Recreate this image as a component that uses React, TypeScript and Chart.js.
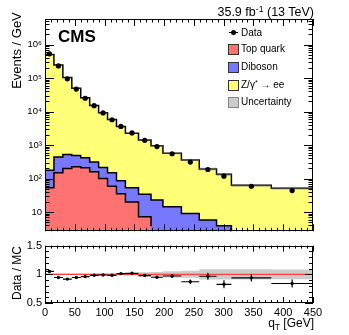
import React, { useEffect, useRef } from 'react';
import { Chart, registerables } from 'chart.js';

Chart.register(...registerables);

const FONT = "'Liberation Sans', Arial, Helvetica, sans-serif";

// ---- data ----
const binEdges = [0, 15, 30, 45, 60, 75, 90, 105, 120, 135, 157, 178, 198, 229, 259, 288, 313, 380, 450];
const dataValues = [530000, 230000, 95000, 47000, 25000, 15000, 9100, 5700, 3600, 2300, 1390, 900, 551, 312, 187, 118, 59, 44];
const topQuark = [53, 149, 200, 224, 210, 159, 101, 59, 35, 20, 7.3, 3.8, 0, 0, 0, 0, 0, 0];
const diboson = [125, 291, 321, 263, 206, 153, 113, 90, 51, 33, 26.7, 19.2, 14.5, 9, 5.8, 3.9, 1.2, 0.8];
const drellYan = [504800, 244000, 103200, 49300, 25600, 14950, 9000, 5650, 3470, 2210, 1387, 925, 553, 350, 188, 130, 62, 51];
const systUnc = [0.012, 0.012, 0.012, 0.012, 0.012, 0.012, 0.012, 0.012, 0.015, 0.02, 0.035, 0.04, 0.055, 0.06, 0.09, 0.09, 0.09, 0.085];
const ratioValues = [1.05, 0.944, 0.916, 0.944, 0.961, 0.983, 0.988, 0.983, 1.012, 1.017, 0.978, 0.949, 0.97, 0.87, 0.966, 0.826, 0.938, 0.84];
const ratioErrors = [0.008, 0.008, 0.008, 0.008, 0.008, 0.008, 0.008, 0.008, 0.01, 0.01, 0.012, 0.015, 0.03, 0.04, 0.06, 0.07, 0.065, 0.07];

// ---- axes / ticks ----
const Y_MIN = 2.67;
const Y_MAX = 5.8e6;
const yMajorValues = [10, 100, 1000, 10000, 100000, 1000000];
const yMajorLabels = ['10', '10²', '10³', '10⁴', '10⁵', '10⁶'];
const xMajorValues = [0, 50, 100, 150, 200, 250, 300, 350, 400, 450];
const xMajorLabels = ['0', '50', '100', '150', '200', '250', '300', '350', '400', '450'];
const ratioMajorValues = [0.5, 1, 1.5];
const ratioMajorLabels = ['0.5', '1', '1.5'];

const xMinorValues: number[] = [];
for (let v = 10; v < 450; v += 10) if (v % 50 !== 0) xMinorValues.push(v);
const yMinorValues: number[] = [];
for (let e = 0; e <= 6; e++) for (let m = 2; m <= 9; m++) {
  const v = m * Math.pow(10, e);
  if (v > Y_MIN && v < Y_MAX) yMinorValues.push(v);
}
const ratioMinorValues = [0.6, 0.7, 0.8, 0.9, 1.1, 1.2, 1.3, 1.4];

const COL_TOP = '#ff7272';
const COL_DIB = '#7878ff';
const COL_DY = '#ffff78';

const stepPoints = (vals: number[]) =>
  binEdges.map((e, i) => ({ x: e, y: vals[Math.min(i, vals.length - 1)] }));
const centers = binEdges.slice(0, -1).map((e, i) => (e + binEdges[i + 1]) / 2);

function framePlugin(o: { xMaj: number; xMin: number; yMaj: number; yMin: number; yMajorVals: number[]; yMinorVals: number[] }) {
  return {
    id: 'frameTicks',
    afterDatasetsDraw(chart: any) {
      const { ctx, chartArea: a } = chart;
      const xs = chart.scales.x;
      const ys = chart.scales.y;
      ctx.save();
      ctx.strokeStyle = '#000';
      ctx.lineWidth = 1;
      ctx.beginPath();
      const xt = (v: number, len: number) => {
        const p = Math.round(xs.getPixelForValue(v)) + 0.5;
        ctx.moveTo(p, a.bottom); ctx.lineTo(p, a.bottom - len);
        ctx.moveTo(p, a.top); ctx.lineTo(p, a.top + len);
      };
      const yt = (v: number, len: number) => {
        const p = Math.round(ys.getPixelForValue(v)) + 0.5;
        ctx.moveTo(a.left, p); ctx.lineTo(a.left + len, p);
        ctx.moveTo(a.right, p); ctx.lineTo(a.right - len, p);
      };
      xMajorValues.forEach((v) => xt(v, o.xMaj));
      xMinorValues.forEach((v) => xt(v, o.xMin));
      o.yMajorVals.forEach((v) => yt(v, o.yMaj));
      o.yMinorVals.forEach((v) => yt(v, o.yMin));
      ctx.stroke();
      ctx.strokeRect(Math.round(a.left) + 0.5, Math.round(a.top) + 0.5, Math.round(a.right - a.left) - 1, Math.round(a.bottom - a.top) - 1);
      ctx.restore();
    },
  };
}

function topConfig(): any {
  const cumTop = topQuark.map((v) => v);
  const cumDib = topQuark.map((v, i) => v + diboson[i]);
  const cumAll = cumDib.map((v, i) => v + drellYan[i]);
  const up = cumAll.map((v, i) => v * (1 + systUnc[i]));
  const dn = cumAll.map((v, i) => v * (1 - systUnc[i]));
  const stepDs = (vals: number[], color: string, fill: any, bw: number, bc: string) => ({
    data: stepPoints(vals), stepped: 'before', fill, backgroundColor: color,
    borderColor: bc, borderWidth: bw, pointRadius: 0, tension: 0,
  });
  return {
    type: 'line',
    data: {
      datasets: [
        { data: centers.map((c, i) => ({ x: c, y: dataValues[i] })), showLine: false, pointRadius: 2.6, pointBackgroundColor: '#000', pointBorderWidth: 0, borderColor: '#000' },
        stepDs(cumTop, COL_TOP, 'start', 1.5, '#000'),
        stepDs(cumDib, COL_DIB, 'start', 1.5, '#000'),
        stepDs(up, 'rgba(110,110,110,0.55)', '+1', 0, 'rgba(0,0,0,0)'),
        stepDs(dn, 'rgba(0,0,0,0)', false, 0, 'rgba(0,0,0,0)'),
        stepDs(cumAll, COL_DY, 'start', 1.5, '#000'),
      ],
    },
    options: {
      responsive: false, animation: false, devicePixelRatio: 1, events: [],
      layout: { padding: { top: 19, right: 36, left: 0, bottom: 0 } },
      plugins: { legend: { display: false }, tooltip: { enabled: false } },
      scales: {
        x: {
          type: 'linear', min: 0, max: 450,
          grid: { display: false, drawTicks: false }, border: { display: false },
          ticks: { display: false },
          afterFit: (s: any) => { s.height = 8; },
        },
        y: {
          type: 'logarithmic', min: Y_MIN, max: Y_MAX,
          grid: { display: false, drawTicks: false }, border: { display: false },
          afterBuildTicks: (s: any) => { s.ticks = yMajorValues.map((v) => ({ value: v })); },
          ticks: {
            autoSkip: false, padding: 3, color: '#000',
            font: { family: FONT, size: 9.5 },
            callback: (_v: any, i: number) => yMajorLabels[i],
          },
          afterFit: (s: any) => { s.width = 45; },
        },
      },
    },
    plugins: [framePlugin({ xMaj: 7, xMin: 3.5, yMaj: 9, yMin: 4.5, yMajorVals: yMajorValues, yMinorVals: yMinorValues })],
  };
}

function bottomConfig(): any {
  const errPts: any[] = [];
  centers.forEach((c, i) => {
    const r = ratioValues[i];
    const e = ratioErrors[i];
    errPts.push({ x: binEdges[i], y: r }, { x: binEdges[i + 1], y: r }, { x: binEdges[i + 1], y: null });
    errPts.push({ x: c, y: r - e }, { x: c, y: r + e }, { x: c, y: null });
  });
  const bandUp = systUnc.map((u) => 1 + u);
  const bandDn = systUnc.map((u) => 1 - u);
  return {
    type: 'line',
    data: {
      datasets: [
        { data: errPts, borderColor: '#000', borderWidth: 1.2, pointRadius: 0, spanGaps: false, fill: false },
        { data: centers.map((c, i) => ({ x: c, y: ratioValues[i] })), showLine: false, pointRadius: 1.7, pointBackgroundColor: '#000', pointBorderWidth: 0 },
        { data: [{ x: 0, y: 1 }, { x: 450, y: 1 }], borderColor: '#ff4040', borderWidth: 1.3, pointRadius: 0, fill: false },
        { data: stepPoints(bandUp), stepped: 'before', fill: '+1', backgroundColor: '#cccccc', borderColor: 'rgba(0,0,0,0)', borderWidth: 0, pointRadius: 0 },
        { data: stepPoints(bandDn), stepped: 'before', fill: false, borderColor: 'rgba(0,0,0,0)', borderWidth: 0, pointRadius: 0 },
      ],
    },
    options: {
      responsive: false, animation: false, devicePixelRatio: 1, events: [],
      layout: { padding: { top: 8, right: 36, left: 0, bottom: 0 } },
      plugins: { legend: { display: false }, tooltip: { enabled: false } },
      scales: {
        x: {
          type: 'linear', min: 0, max: 450,
          grid: { display: false, drawTicks: false }, border: { display: false },
          afterBuildTicks: (s: any) => { s.ticks = xMajorValues.map((v) => ({ value: v })); },
          ticks: {
            autoSkip: false, maxRotation: 0, minRotation: 0, padding: 3, color: '#000',
            font: { family: FONT, size: 11 },
            callback: (_v: any, i: number) => xMajorLabels[i],
          },
          afterFit: (s: any) => { s.height = 32; },
        },
        y: {
          type: 'linear', min: 0.5, max: 1.5,
          grid: { display: false, drawTicks: false }, border: { display: false },
          afterBuildTicks: (s: any) => { s.ticks = ratioMajorValues.map((v) => ({ value: v })); },
          ticks: {
            autoSkip: false, padding: 3, color: '#000',
            font: { family: FONT, size: 11 },
            callback: (_v: any, i: number) => ratioMajorLabels[i],
          },
          afterFit: (s: any) => { s.width = 45; },
        },
      },
    },
    plugins: [framePlugin({ xMaj: 6, xMin: 3, yMaj: 8, yMin: 4, yMajorVals: ratioMajorValues, yMinorVals: ratioMinorValues })],
  };
}

const abs = (s: React.CSSProperties): React.CSSProperties => ({ position: 'absolute', lineHeight: 1, whiteSpace: 'nowrap', ...s });

function LegendBox({ y, color, border, label }: { y: number; color: string; border: string; label: React.ReactNode }) {
  return (
    <>
      <div style={abs({ left: 228, top: y - 5.5, width: 11, height: 11, boxSizing: 'border-box', background: color, border: `1px solid ${border}` })} />
      <div style={abs({ left: 241, top: y - 5, fontSize: 10 })}>{label}</div>
    </>
  );
}

export default function App() {
  const topRef = useRef<HTMLCanvasElement>(null);
  const botRef = useRef<HTMLCanvasElement>(null);
  useEffect(() => {
    const c1 = new Chart(topRef.current as HTMLCanvasElement, topConfig());
    const c2 = new Chart(botRef.current as HTMLCanvasElement, bottomConfig());
    return () => { c1.destroy(); c2.destroy(); };
  }, []);
  return (
    <div style={{ position: 'fixed', left: 0, top: 0, width: 349, height: 335, background: '#fff', color: '#000', fontFamily: FONT, overflow: 'hidden' }}>
      <canvas ref={topRef} width={349} height={240} style={{ position: 'absolute', left: 0, top: 0 }} />
      <canvas ref={botRef} width={349} height={99} style={{ position: 'absolute', left: 0, top: 236 }} />

      <div style={abs({ right: 35, top: 6.4, fontSize: 12.5 })}>
        35.9 fb<span style={{ fontSize: '0.7em', position: 'relative', top: '-0.55em' }}>-1</span> (13 TeV)
      </div>
      <div style={abs({ left: 58, top: 27.8, fontSize: 17, fontWeight: 'bold' })}>CMS</div>

      {/* legend */}
      <div style={abs({ left: 229, top: 32, width: 9, height: 1, background: '#000' })} />
      <div style={abs({ left: 231, top: 30, width: 5, height: 5, borderRadius: '50%', background: '#000' })} />
      <div style={abs({ left: 241, top: 27.5, fontSize: 10 })}>Data</div>
      <LegendBox y={49} color={COL_TOP} border="#333" label="Top quark" />
      <LegendBox y={67} color={COL_DIB} border="#333" label="Diboson" />
      <LegendBox y={85} color={COL_DY} border="#333" label={<>Z/γ<span style={{ fontSize: '0.7em', position: 'relative', top: '-0.5em' }}>*</span> → ee</>} />
      <LegendBox y={102} color="#cccccc" border="#888" label="Uncertainty" />

      {/* axis titles */}
      <div style={abs({ left: 15.8 - 50, top: 50.5 - 6.5, width: 100, height: 13, fontSize: 13, lineHeight: '13px', textAlign: 'center', transform: 'rotate(-90deg)' })}>Events / GeV</div>
      <div style={abs({ left: 16.5 - 40, top: 273.3 - 6, width: 80, height: 12, fontSize: 12, lineHeight: '12px', textAlign: 'center', transform: 'rotate(-90deg)' })}>Data / MC</div>
      <div style={abs({ right: 35, top: 316.8, fontSize: 12 })}>
        q<span style={{ fontSize: '0.7em', position: 'relative', top: '0.35em' }}>T</span> [GeV]
      </div>
    </div>
  );
}
